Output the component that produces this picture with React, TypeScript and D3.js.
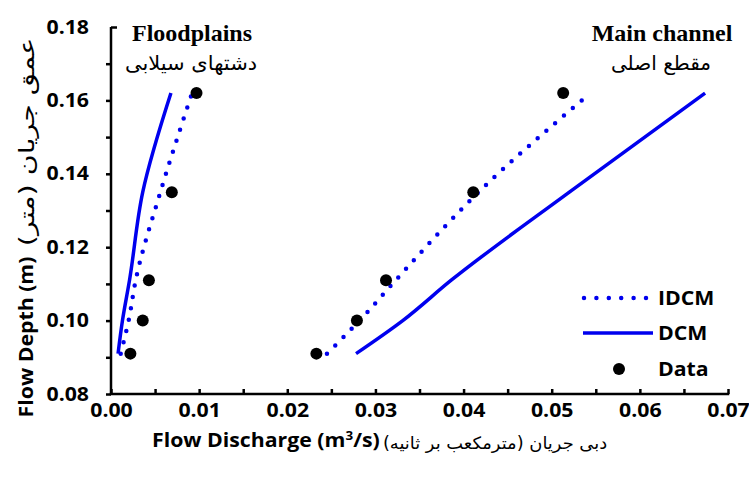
import { useEffect, useRef } from "react";
import * as d3 from "d3";

// flow depths (m) shared by all series
const depths = [0.091, 0.1, 0.111, 0.135, 0.162];

// floodplains
const fpData = [0.0022, 0.0036, 0.0043, 0.0069, 0.0097];
const fpIDCM = [0.0011, 0.002, 0.0028, 0.0056, 0.0092];
const fpDCM = [0.0008, 0.0013, 0.0021, 0.0036, 0.0068];

// main channel
const mcData = [0.0233, 0.0279, 0.0312, 0.0411, 0.0513];
const mcIDCM = [0.0245, 0.0282, 0.0323, 0.0417, 0.0544];
const mcDCM = [0.0278, 0.0331, 0.0386, 0.052, 0.0674];

const xMajor = [0, 0.01, 0.02, 0.03, 0.04, 0.05, 0.06, 0.07];
const yMajor = [0.08, 0.1, 0.12, 0.14, 0.16, 0.18];

const legendItems = ["IDCM", "DCM", "Data"];

const W = 749, H = 477;
const BLUE = "#0000ee";
const SANS = "'Open Sans', sans-serif";
const SX = 1.12; // the labels in the figure are set wide
const FS = 19;

const App = () => {
    const ref = useRef<SVGGElement>(null);

    useEffect(() => {
        if (!ref.current) return;
        const svg = d3.select(ref.current);
        svg.selectAll("*").remove();

        const x = d3.scaleLinear().domain([0, 0.07]).range([111, 728]);
        const y = d3.scaleLinear().domain([0.08, 0.18]).range([394, 27]);

        const pts = (xs: number[]) => xs.map((v, i) => [v, depths[i]] as [number, number]);
        const line = d3.line<[number, number]>().x(d => x(d[0])).y(d => y(d[1])).curve(d3.curveMonotoneY);

        // axes
        const xMinor = d3.range(0.005, 0.07, 0.01);
        const yMinor = d3.range(0.09, 0.18, 0.02);

        const gx = svg.append("g").attr("transform", `translate(0,${y(0.08)})`);
        gx.call(d3.axisBottom(x).tickValues(xMajor).tickSize(-5).tickPadding(10).tickFormat(d3.format(".2f")));
        gx.append("g").call(d3.axisBottom(x).tickValues(xMinor).tickSize(-5).tickFormat(() => ""));

        const gy = svg.append("g").attr("transform", `translate(${x(0)},0)`);
        gy.call(d3.axisLeft(y).tickValues(yMajor).tickSize(5).tickPadding(17).tickFormat(d3.format(".2f")));
        gy.append("g").call(d3.axisLeft(y).tickValues(yMinor).tickSize(5).tickFormat(() => ""));

        [gx, gy].forEach(g => {
            g.selectAll("path.domain").remove();
            g.selectAll("line").attr("stroke", "#000").attr("stroke-width", 2.5);
            g.selectAll("text")
                .attr("fill", "#000")
                .style("font-family", SANS)
                .style("font-weight", "bold")
                .style("font-size", FS + "px");
        });
        // axis lines
        svg.append("line").attr("x1", x(0) - 1.25).attr("x2", x(0.07) + 1.25).attr("y1", y(0.08)).attr("y2", y(0.08))
            .attr("stroke", "#000").attr("stroke-width", 2.5);
        svg.append("line").attr("x1", x(0)).attr("x2", x(0)).attr("y1", y(0.08)).attr("y2", y(0.18))
            .attr("stroke", "#000").attr("stroke-width", 2.5);
        // top tick of the y axis points inward
        gy.selectAll<SVGGElement, number>(".tick").filter(d => d === 0.18).select("line").attr("x2", 6);

        gy.selectAll("text").attr("x", -22 / SX).attr("transform", `scale(${SX},1)`);
        gx.selectAll("text").attr("transform", `scale(${SX},1)`).attr("x", 0);

        // series
        const dotted = (xs: number[]) => svg.append("path").datum(pts(xs)).attr("d", line)
            .attr("fill", "none").attr("stroke", BLUE).attr("stroke-width", 4.5)
            .attr("stroke-linecap", "round").attr("stroke-dasharray", "0 11.6");
        const solid = (xs: number[]) => svg.append("path").datum(pts(xs)).attr("d", line)
            .attr("fill", "none").attr("stroke", BLUE).attr("stroke-width", 3.5);

        dotted(fpIDCM);
        solid(fpDCM);
        dotted(mcIDCM);
        solid(mcDCM);

        [fpData, mcData].forEach(xs => {
            svg.append("g").selectAll("circle").data(pts(xs)).enter().append("circle")
                .attr("cx", d => x(d[0])).attr("cy", d => y(d[1])).attr("r", 6).attr("fill", "#000");
        });

        // legend
        const lg = svg.append("g");
        const rowY = [298, 333, 369];
        legendItems.forEach((name, i) => {
            if (name === "IDCM") {
                lg.append("line").attr("x1", 584).attr("x2", 646).attr("y1", rowY[i]).attr("y2", rowY[i])
                    .attr("stroke", BLUE).attr("stroke-width", 4.5).attr("stroke-linecap", "round")
                    .attr("stroke-dasharray", "0 12.4");
            } else if (name === "DCM") {
                lg.append("line").attr("x1", 583).attr("x2", 653).attr("y1", rowY[i]).attr("y2", rowY[i])
                    .attr("stroke", BLUE).attr("stroke-width", 3.5);
            } else {
                lg.append("circle").attr("cx", 619).attr("cy", rowY[i]).attr("r", 6).attr("fill", "#000");
            }
            lg.append("text")
                .attr("transform", `translate(658,${rowY[i] + 7}) scale(${SX},1)`)
                .style("font-family", SANS).style("font-weight", "bold").style("font-size", FS + "px")
                .text(name);
        });
    }, []);

    const serif = "'Liberation Serif', 'Times New Roman', serif";
    const persian = "'DejaVu Sans', sans-serif";

    return (
        <svg width={W} height={H}
             style={{position: "absolute", left: 0, top: 0, background: "#fff"}}>
            <g ref={ref}/>
            {/* panel titles */}
            <text x={192} y={41} textAnchor="middle" fontFamily={serif} fontWeight="bold" fontSize={24}>Floodplains</text>
            <text transform="translate(191,70) scale(1.05,1)" textAnchor="middle" direction="rtl" fontFamily={persian} fontSize={20}>دشتهای سیلابی</text>
            <text x={662} y={41} textAnchor="middle" fontFamily={serif} fontWeight="bold" fontSize={24}>Main channel</text>
            <text x={661} y={70} textAnchor="middle" direction="rtl" fontFamily={persian} fontSize={20}>مقطع اصلی</text>

            {/* y title */}
            <text transform={`translate(33,337) rotate(-90) scale(${SX},1)`} textAnchor="middle"
                  fontFamily={SANS} fontWeight="bold" fontSize={FS}>Flow Depth (m)</text>
            <text transform="translate(34,142) rotate(-90) scale(1.36,1)" textAnchor="middle" direction="rtl"
                  fontFamily={persian} fontSize={21}>عمق جریان (متر)</text>

            {/* x title */}
            <text transform={`translate(152,447) scale(${SX},1)`} fontFamily={SANS} fontWeight="bold" fontSize={FS}>
                Flow Discharge (m<tspan fontSize={12} dy={-7}>3</tspan><tspan dy={7}>/s)</tspan>
            </text>
            <text transform="translate(495,449) scale(1.05,1)" textAnchor="middle" direction="rtl" fontFamily={persian} fontSize={17}>دبی جریان (مترمکعب بر ثانیه)</text>
        </svg>
    );
};

export default App;
